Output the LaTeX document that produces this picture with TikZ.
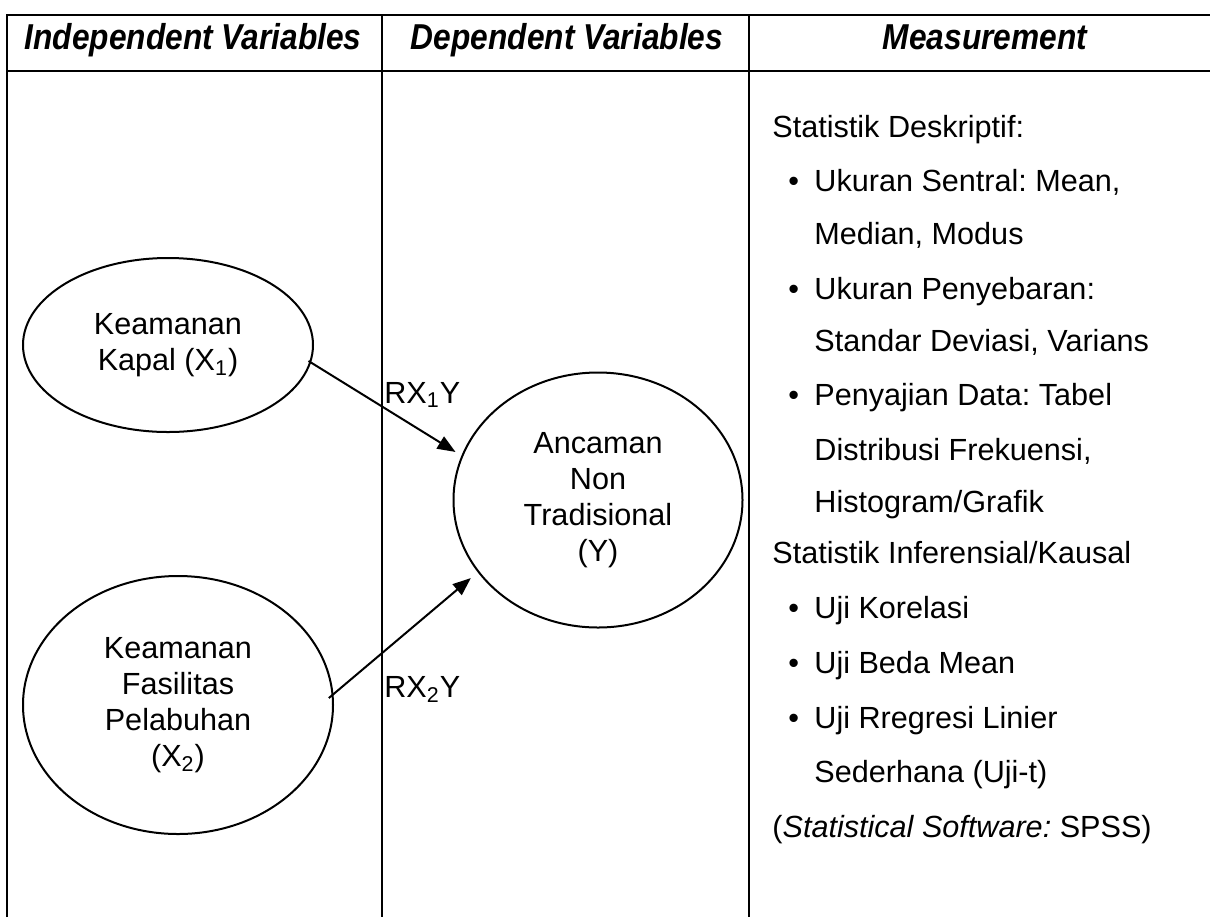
\documentclass[tikz,border=0pt]{standalone}
\usepackage{fontspec}
\usepackage{graphicx}
\setmainfont{Liberation Sans}
\usetikzlibrary{shapes.geometric,arrows.meta}
\frenchspacing
\newcommand{\hdtxt}[1]{\scalebox{0.88}[1]{#1}}

\begin{document}
\begin{tikzpicture}
                [x=0.5pt, y=-0.5pt,
                 var/.style={ellipse, draw, line width=1pt, inner sep=0pt, align=center, font=\fontsize{15.3}{18}\selectfont},
                 head/.style={anchor=base, inner sep=0pt, font=\fontsize{18}{20}\selectfont\bfseries\itshape},
                 rule/.style={line width=1.1pt},
                 edge/.style={draw, line width=1pt, -{Triangle[length=9pt,width=7pt]}},
                 item/.style={anchor=base west, inner sep=0pt, font=\fontsize{15.3}{18}\selectfont}]
                \useasboundingbox (0,0) rectangle (1210,917);
                % Define table
                \draw[rule] (7,917) -- (7,15) -- (1210,15);
                \draw[rule] (7,71) -- (1210,71);
                \draw[rule] (382,15) -- (382,917);
                \draw[rule] (749,15) -- (749,917);
                \node[head] (Head 1) at (193,49) {\hdtxt{Independent Variables}};
                \node[head] (Head 2) at (567,49) {\hdtxt{Dependent Variables}};
                \node[head] (Head 3) at (985,49) {\hdtxt{Measurement}};
                % Define nodes
                \node[var, minimum width=145pt, minimum height=87pt] (X1) at (168,345) {Keamanan\\Kapal (X\textsubscript{1})};
                \node[var, minimum width=155pt, minimum height=129pt] (X2) at (178,705) {Keamanan\\Fasilitas\\Pelabuhan\\(X\textsubscript{2})};
                \node[var, minimum width=144.5pt, minimum height=127.5pt] (Y) at (598,500) {Ancaman\\Non\\Tradisional\\(Y)};
                \node[item] (R1) at (384,403) {RX\textsubscript{1}Y};
                \node[item] (R2) at (384,697) {RX\textsubscript{2}Y};
                % Define edges
                \draw[edge, shorten <=-1.5pt, shorten >=3.5pt] (X1.-7) -- (Y.162);
                \draw[edge, shorten <=-3pt, shorten >=4.5pt] (X2.4) -- (Y.211);
                % Measurement column
                \node[item] (M1) at (772,137) {Statistik Deskriptif:};
                \node[item] (U1) at (814,191) {Ukuran Sentral: Mean,};
                \node[item] (U1b) at (814,244) {Median, Modus};
                \node[item] (U2) at (814,299) {Ukuran Penyebaran:};
                \node[item] (U2b) at (814,351) {Standar Deviasi, Varians};
                \node[item] (U3) at (814,405) {Penyajian Data: Tabel};
                \node[item] (U3b) at (814,460) {Distribusi Frekuensi,};
                \node[item] (U3c) at (814,512) {Histogram/Grafik};
                \node[item] (M2) at (772,563) {Statistik Inferensial/Kausal};
                \node[item] (V1) at (814,618) {Uji Korelasi};
                \node[item] (V2) at (814,673) {Uji Beda Mean};
                \node[item] (V3) at (814,728) {Uji Rregresi Linier};
                \node[item] (V3b) at (814,782) {Sederhana (Uji-t)};
                \node[item] (M3) at (772,837) {(\textit{Statistical Software:} SPSS)};
                \foreach \yy [count=\i] in {191,299,405,618,673,728}
                  \node[item] (Dot \i) at (788,\yy) {•};
            \end{tikzpicture}
\end{document}
